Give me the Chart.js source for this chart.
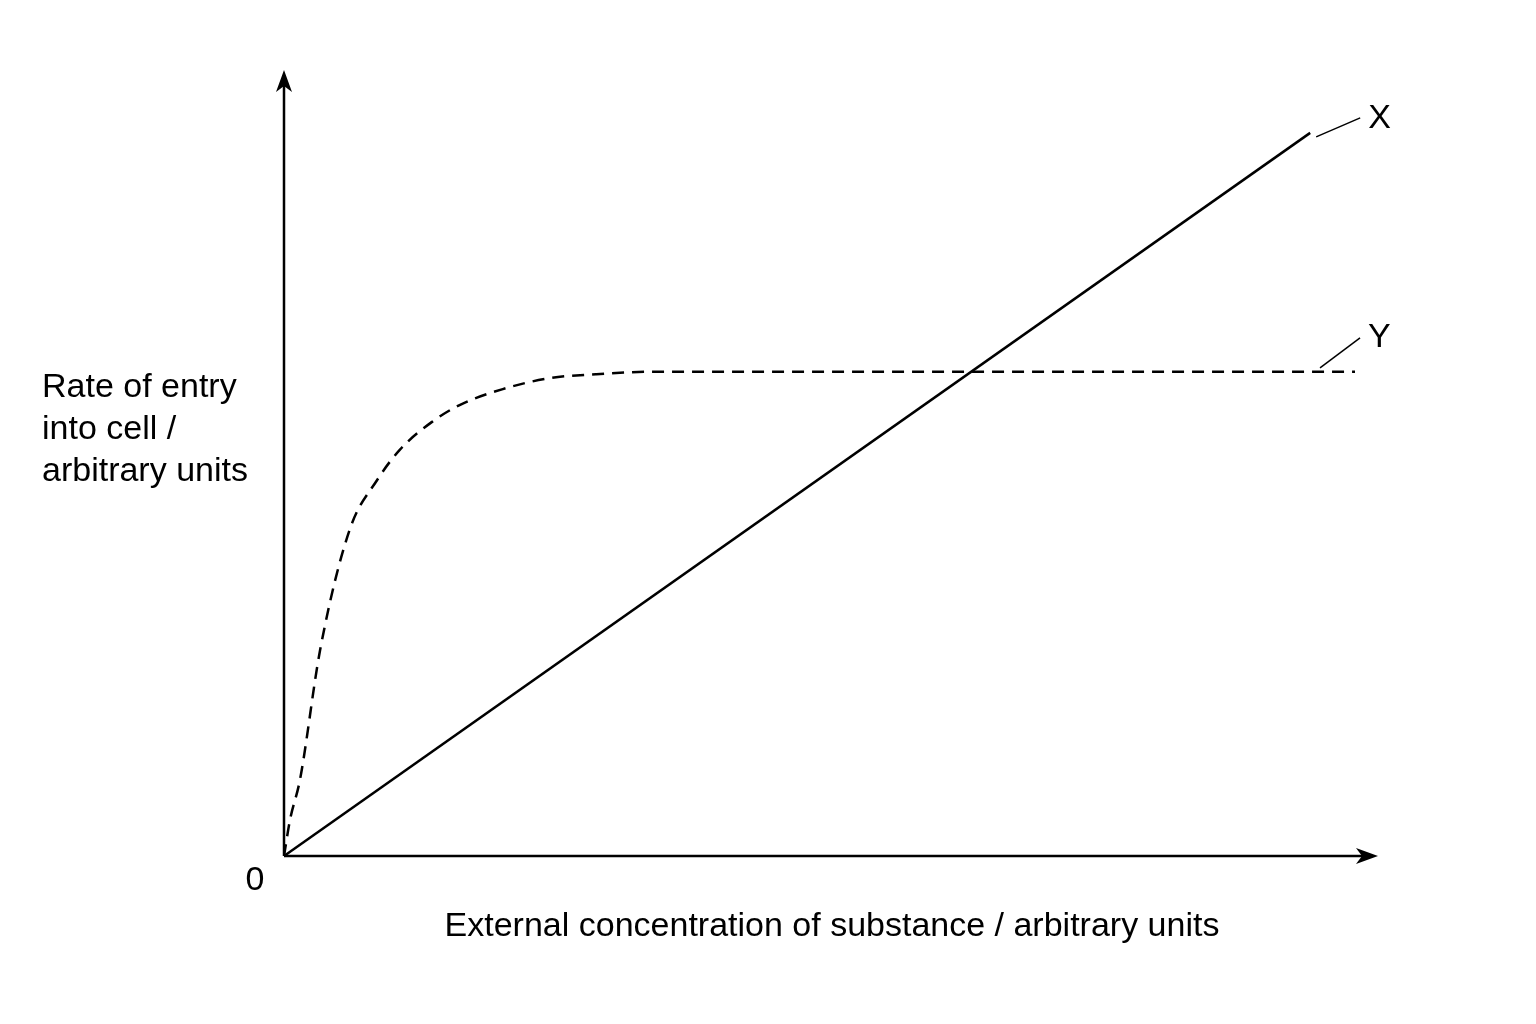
<!DOCTYPE html>
<html><head><meta charset="utf-8">
<script src="https://cdn.jsdelivr.net/npm/chart.js@4"></script>
<style>html,body{margin:0;background:#fff}</style>
</head><body>
<canvas id="c" width="1536" height="1024"></canvas>
<script>
const xLineX = [0, 93.8];
const xLineY = [0, 92.0];
const yCurveX = [0, 0.55, 1.46, 3.3, 6.0, 8.5, 10.6, 13.5, 16.1, 20, 24.3, 28.5, 33.5, 50, 70, 97.9];
const yCurveY = [0, 4.6, 9.7, 26.2, 41.5, 47.8, 51.7, 55.2, 57.4, 59.4, 60.8, 61.3, 61.6, 61.6, 61.6, 61.6];
const seriesLabels = ["X", "Y"];
const xTitle = "External concentration of substance / arbitrary units";
const yTitle = ["Rate of entry", "into cell /", "arbitrary units"];
const originLabel = "0";

const pts = (xs, ys) => xs.map((x, i) => ({x, y: ys[i]}));
const FONT = '34px "Liberation Sans", Arial, sans-serif';

const deco = {
  id: 'deco',
  afterDraw(chart) {
    const {ctx, chartArea: a, scales: {x, y}} = chart;
    ctx.save();
    ctx.strokeStyle = '#000'; ctx.fillStyle = '#000'; ctx.lineWidth = 2.5;
    ctx.beginPath(); ctx.moveTo(a.left, a.bottom); ctx.lineTo(a.right - 10, a.bottom);
    ctx.moveTo(a.left, a.bottom); ctx.lineTo(a.left, a.top + 10); ctx.stroke();
    ctx.beginPath(); ctx.moveTo(a.right, a.bottom); ctx.lineTo(a.right - 22, a.bottom - 8);
    ctx.lineTo(a.right - 16, a.bottom); ctx.lineTo(a.right - 22, a.bottom + 8); ctx.closePath(); ctx.fill();
    ctx.beginPath(); ctx.moveTo(a.left, a.top); ctx.lineTo(a.left - 8, a.top + 22);
    ctx.lineTo(a.left, a.top + 16); ctx.lineTo(a.left + 8, a.top + 22); ctx.closePath(); ctx.fill();
    ctx.lineWidth = 1.5;
    const xe = {px: x.getPixelForValue(xLineX[1]), py: y.getPixelForValue(xLineY[1])};
    ctx.beginPath(); ctx.moveTo(xe.px + 6, xe.py + 4); ctx.lineTo(xe.px + 50, xe.py - 15); ctx.stroke();
    const ye = {px: x.getPixelForValue(yCurveX[yCurveX.length-1]), py: y.getPixelForValue(yCurveY[yCurveY.length-1])};
    ctx.beginPath(); ctx.moveTo(ye.px - 35, ye.py - 4); ctx.lineTo(ye.px + 5, ye.py - 34); ctx.stroke();
    ctx.font = FONT; ctx.textBaseline = 'middle'; ctx.textAlign = 'left';
    ctx.fillText(seriesLabels[0], xe.px + 58, xe.py - 14);
    ctx.fillText(seriesLabels[1], ye.px + 13, ye.py - 34);
    yTitle.forEach((t, i) => ctx.fillText(t, 42, 388 + i * 42));
    ctx.textAlign = 'center';
    ctx.fillText(originLabel, a.left - 29, a.bottom + 25);
    ctx.fillText(xTitle, 832, a.bottom + 71);
    ctx.restore();
  }
};

new Chart(document.getElementById('c'), {
  type: 'scatter',
  data: { datasets: [
    { label: seriesLabels[0], data: pts(xLineX, xLineY), showLine: true, borderColor: '#000', borderWidth: 2.5, pointRadius: 0 },
    { label: seriesLabels[1], data: pts(yCurveX, yCurveY), showLine: true, borderColor: '#000', borderWidth: 2.5, borderDash: [12, 8], pointRadius: 0, cubicInterpolationMode: 'monotone' }
  ]},
  options: {
    responsive: false, animation: false,
    layout: { padding: { left: 284, right: 158, top: 70, bottom: 168 } },
    plugins: { legend: { display: false }, tooltip: { enabled: false } },
    scales: {
      x: { type: 'linear', min: 0, max: 100, display: false },
      y: { type: 'linear', min: 0, max: 100, display: false }
    }
  },
  plugins: [deco]
});
</script>
</body></html>
